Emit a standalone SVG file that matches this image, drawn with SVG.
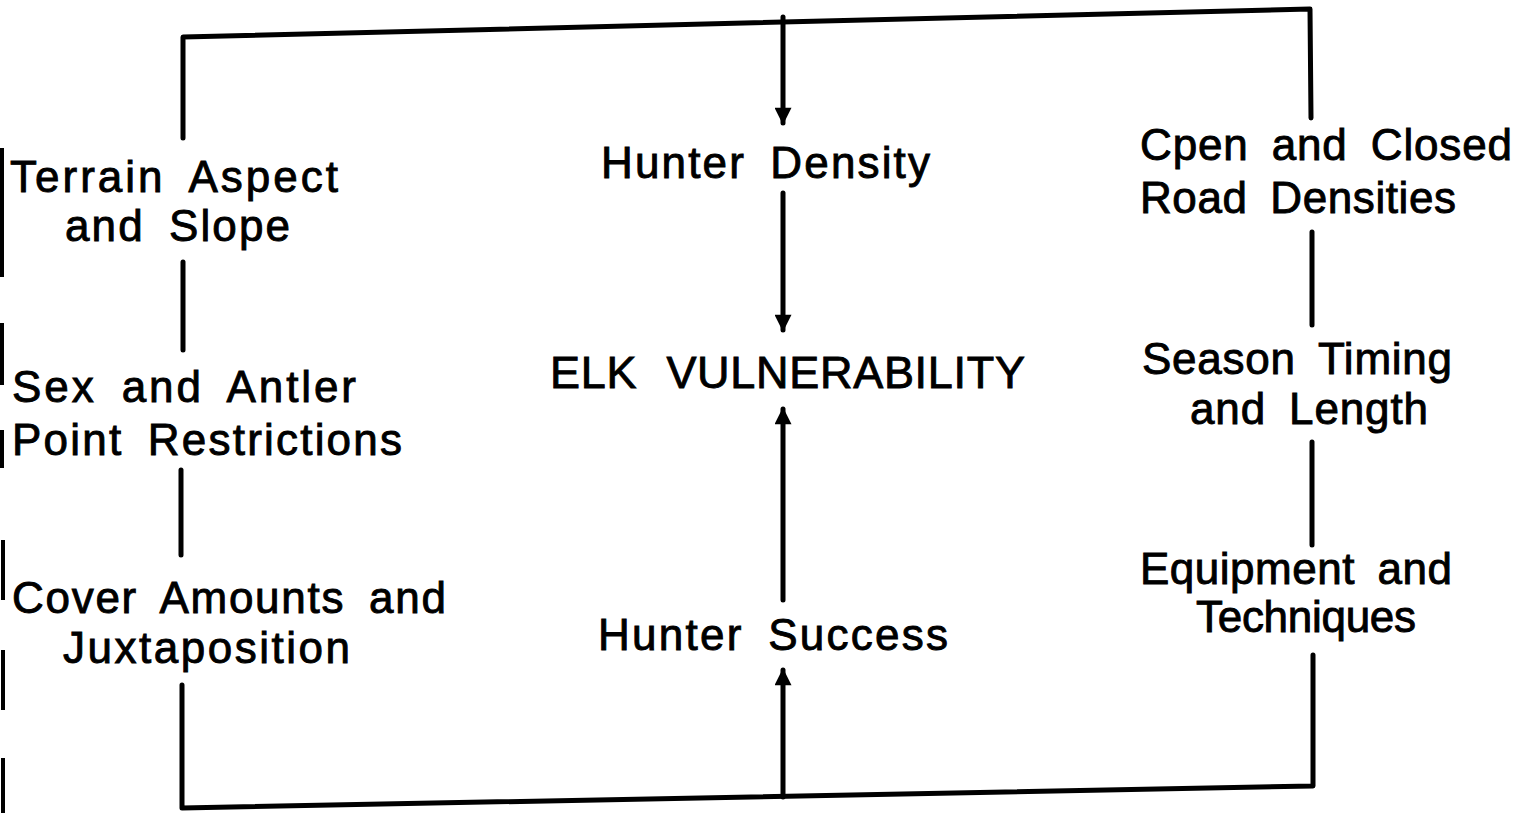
<svg xmlns="http://www.w3.org/2000/svg" width="1532" height="813" viewBox="0 0 1532 813">
<style>
.t{font-family:"Liberation Sans",Arial,sans-serif;font-size:44px;fill:#000;stroke:#000;stroke-width:0.9;word-spacing:10px;}
.big{font-size:45px;word-spacing:16px;}
.ln{stroke:#000;stroke-width:5;fill:none;stroke-linecap:round;stroke-linejoin:round;}
.edge{stroke:#000;stroke-width:4;}
</style>
<defs>
<marker id="ah" viewBox="0 0 10 10" refX="9" refY="5" markerWidth="3.6" markerHeight="3.4" orient="auto" markerUnits="strokeWidth">
<path d="M0,0 L10,5 L0,10 z" fill="#000"/>
</marker>
</defs>
<rect width="1532" height="813" fill="#fff"/>
<g id="connectors">
<polyline class="ln" points="183,138 183,37 1310,9 1311,118"/>
<line class="ln" x1="783" y1="17" x2="783" y2="123" marker-end="url(#ah)"/>
<line class="ln" x1="783" y1="193" x2="783" y2="330" marker-end="url(#ah)"/>
<line class="ln" x1="783" y1="600" x2="783" y2="409" marker-end="url(#ah)"/>
<line class="ln" x1="783" y1="797" x2="783" y2="670" marker-end="url(#ah)"/>
<polyline class="ln" points="182,685 182,808 1313,786 1313,655"/>
<line class="ln" x1="183" y1="262" x2="183" y2="350"/>
<line class="ln" x1="181" y1="470" x2="181" y2="555"/>
<line class="ln" x1="1312" y1="232" x2="1312" y2="325"/>
<line class="ln" x1="1312" y1="442" x2="1312" y2="545"/>
</g>
<g id="edge-marks">
<line class="edge" x1="2" y1="148" x2="2" y2="277"/>
<line class="edge" x1="2" y1="323" x2="2" y2="385"/>
<line class="edge" x1="2" y1="430" x2="2" y2="468"/>
<line class="edge" x1="3" y1="540" x2="3" y2="600"/>
<line class="edge" x1="3" y1="650" x2="3" y2="710"/>
<line class="edge" x1="3" y1="758" x2="3" y2="813"/>
</g>
<g id="hunter-density"><text class="t" x="601" y="178" textLength="329" lengthAdjust="spacing">Hunter Density</text></g>
<g id="elk-vulnerability"><text class="t big" x="550" y="388" textLength="475" lengthAdjust="spacing">ELK VULNERABILITY</text></g>
<g id="hunter-success"><text class="t" x="598" y="650" textLength="350" lengthAdjust="spacing">Hunter Success</text></g>
<g id="terrain">
<text class="t" x="10" y="192" textLength="328" lengthAdjust="spacing">Terrain Aspect</text>
<text class="t" x="65" y="241" textLength="225" lengthAdjust="spacing">and Slope</text>
</g>
<g id="sex-antler">
<text class="t" x="12" y="402" textLength="344" lengthAdjust="spacing">Sex and Antler</text>
<text class="t" x="12" y="455" textLength="390" lengthAdjust="spacing">Point Restrictions</text>
</g>
<g id="cover">
<text class="t" x="12" y="613" textLength="434" lengthAdjust="spacing">Cover Amounts and</text>
<text class="t" x="63" y="663" textLength="287" lengthAdjust="spacing">Juxtaposition</text>
</g>
<g id="roads">
<text class="t" x="1140" y="160" textLength="372" lengthAdjust="spacing">Cpen and Closed</text>
<text class="t" x="1140" y="213" textLength="316" lengthAdjust="spacing">Road Densities</text>
</g>
<g id="season">
<text class="t" x="1142" y="374" textLength="310" lengthAdjust="spacing">Season Timing</text>
<text class="t" x="1190" y="424" textLength="238" lengthAdjust="spacing">and Length</text>
</g>
<g id="equipment">
<text class="t" x="1140" y="584" textLength="312" lengthAdjust="spacing">Equipment and</text>
<text class="t" x="1196" y="632" textLength="220" lengthAdjust="spacing">Techniques</text>
</g>
</svg>
